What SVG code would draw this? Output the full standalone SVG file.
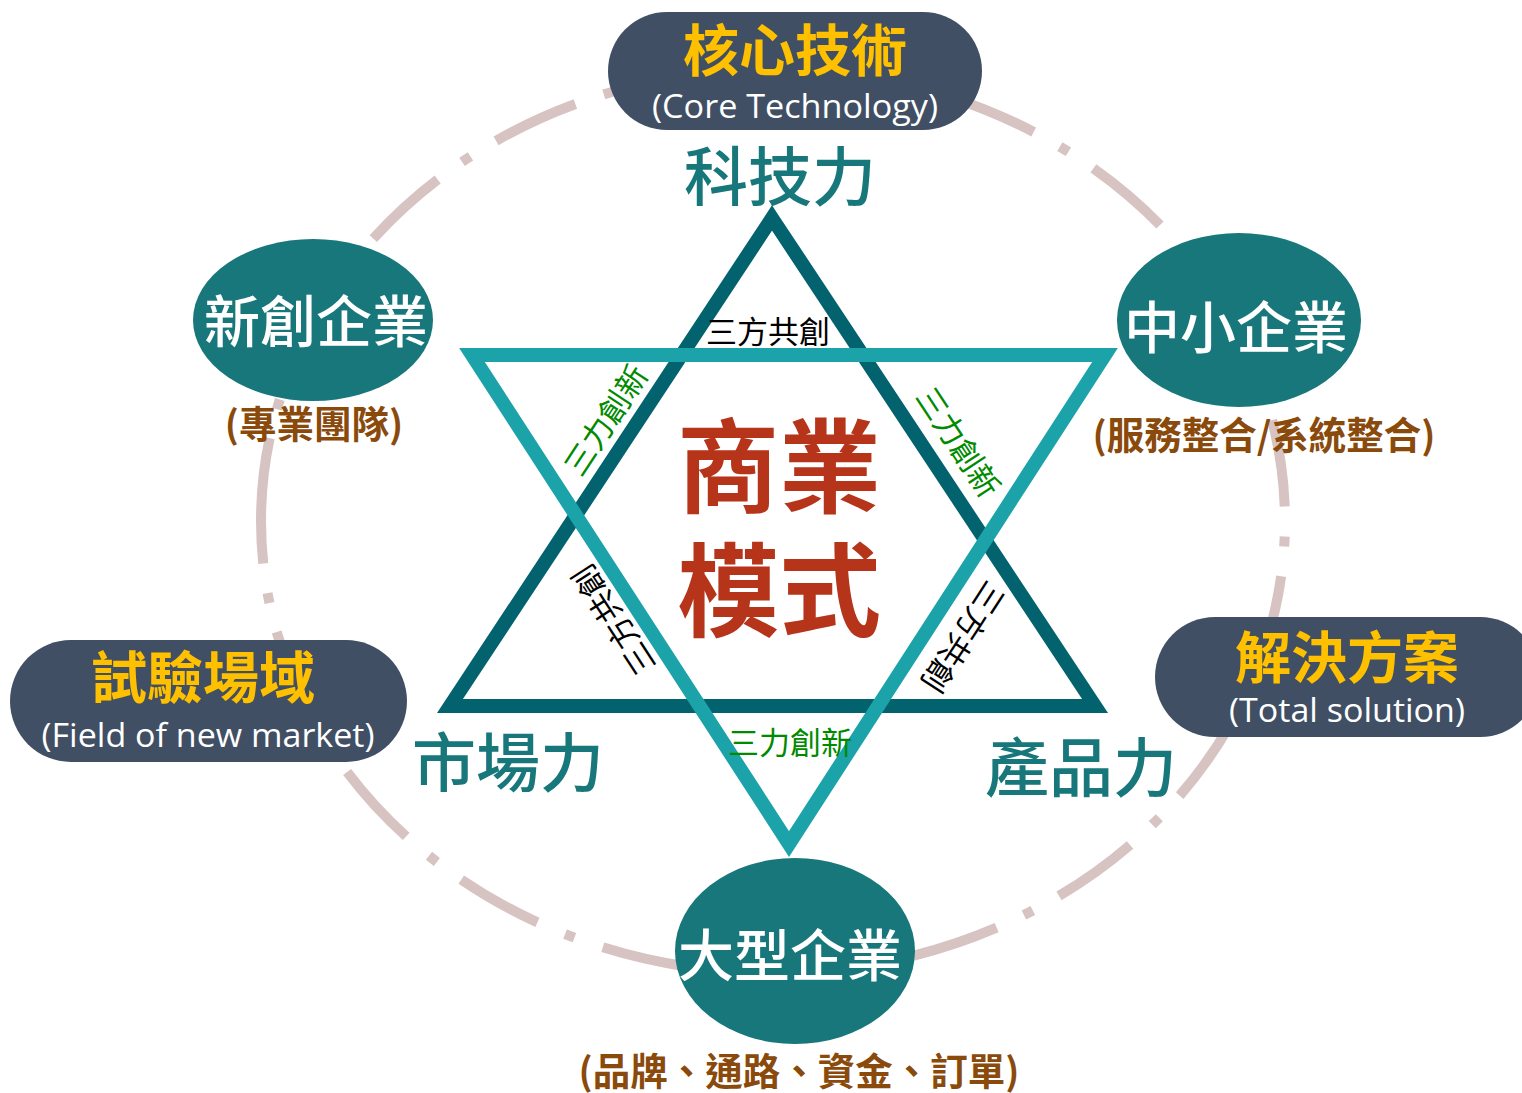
<svg xmlns="http://www.w3.org/2000/svg" width="1522" height="1093" viewBox="0 0 1522 1093">
<style>
text { font-family: "Noto Sans CJK TC", "Noto Sans CJK SC", sans-serif; text-anchor: middle; }
.en { font-family: "Open Sans", "Noto Sans", "Liberation Sans", sans-serif; fill: #ffffff; font-size: 32px; font-weight: 400; }
.slate { fill: #404F64; }
.tealfill { fill: #17777A; }
.yel { fill: #FFC000; font-weight: 700; font-size: 56px; }
.wh { fill: #ffffff; font-size: 56px; font-weight: 500; }
.brown { fill: #8A4A0C; font-weight: 700; font-size: 37.5px; }
.power { fill: #17777A; font-size: 64px; font-weight: 500; }
.core { fill: #B5341A; font-weight: 700; font-size: 102px; }
.small { font-size: 31px; dominant-baseline: central; }
.blk { fill: #000000; }
.grn { fill: #008A00; }
.ring { fill: none; stroke: #D8C3C3; stroke-width: 10; stroke-dasharray: 87.5 30 10 30; stroke-dashoffset: 4; }
.tri { fill: none; stroke-width: 14; stroke-linejoin: miter; stroke-miterlimit: 10; }
</style>
<rect width="1522" height="1093" fill="#ffffff"/>
<g id="connectors">
  <path class="ring" pathLength="3031" d="M261,521 A512,452 0 0 1 1285,521 A512,452 0 0 1 261,521"/>
  <polygon class="tri" stroke="#02636E" points="772,218 1095,706 450,706"/>
  <polygon class="tri" stroke="#1CA3A9" points="472,355 1105,355 789,844"/>
</g>
<g id="star-labels">
  <text class="small blk" x="768" y="329">三方共創</text>
  <text class="small grn" transform="translate(604,419) rotate(-56.6)">三力創新</text>
  <text class="small grn" transform="translate(960,441) rotate(56.6)">三力創新</text>
  <text class="small blk" transform="translate(612,621) rotate(-123)">三方共創</text>
  <text class="small blk" transform="translate(965,638) rotate(123)">三方共創</text>
  <text class="small grn" x="790" y="740">三力創新</text>
</g>
<g id="center">
  <text class="core"><tspan x="779" y="505">商業</tspan><tspan x="779" y="629">模式</tspan></text>
</g>
<g id="power-tech"><text class="power" x="780" y="200">科技力</text></g>
<g id="power-market"><text class="power" x="508" y="786">市場力</text></g>
<g id="power-product"><text class="power" x="1081" y="791">產品力</text></g>
<g id="node-core">
  <rect class="slate" x="608" y="12" width="374" height="118" rx="59" ry="59"/>
  <text class="yel"><tspan x="795" y="71">核心技術</tspan><tspan class="en" x="795" y="118" textLength="286" lengthAdjust="spacingAndGlyphs">(Core Technology)</tspan></text>
</g>
<g id="node-field">
  <rect class="slate" x="10" y="640" width="397" height="122" rx="61" ry="61"/>
  <text class="yel"><tspan x="203" y="698">試驗場域</tspan><tspan class="en" x="208" y="747" textLength="333" lengthAdjust="spacingAndGlyphs">(Field of new market)</tspan></text>
</g>
<g id="node-solution">
  <rect class="slate" x="1155" y="617" width="385" height="120" rx="60" ry="60"/>
  <text class="yel"><tspan x="1347" y="678">解決方案</tspan><tspan class="en" x="1347" y="722" textLength="236" lengthAdjust="spacingAndGlyphs">(Total solution)</tspan></text>
</g>
<g id="node-startup">
  <ellipse class="tealfill" cx="313" cy="320" rx="120" ry="81"/>
  <text class="wh" x="316" y="342">新創企業</text>
  <text class="brown" x="314" y="438">(專業團隊)</text>
</g>
<g id="node-sme">
  <ellipse class="tealfill" cx="1239" cy="320" rx="122" ry="87"/>
  <text class="wh" x="1236" y="348">中小企業</text>
  <text class="brown" x="1264" y="449">(服務整合/系統整合)</text>
</g>
<g id="node-large">
  <ellipse class="tealfill" cx="795" cy="951" rx="120" ry="93"/>
  <text class="wh" x="790" y="976">大型企業</text>
  <text class="brown" x="799" y="1085">(品牌、通路、資金、訂單)</text>
</g>
</svg>
